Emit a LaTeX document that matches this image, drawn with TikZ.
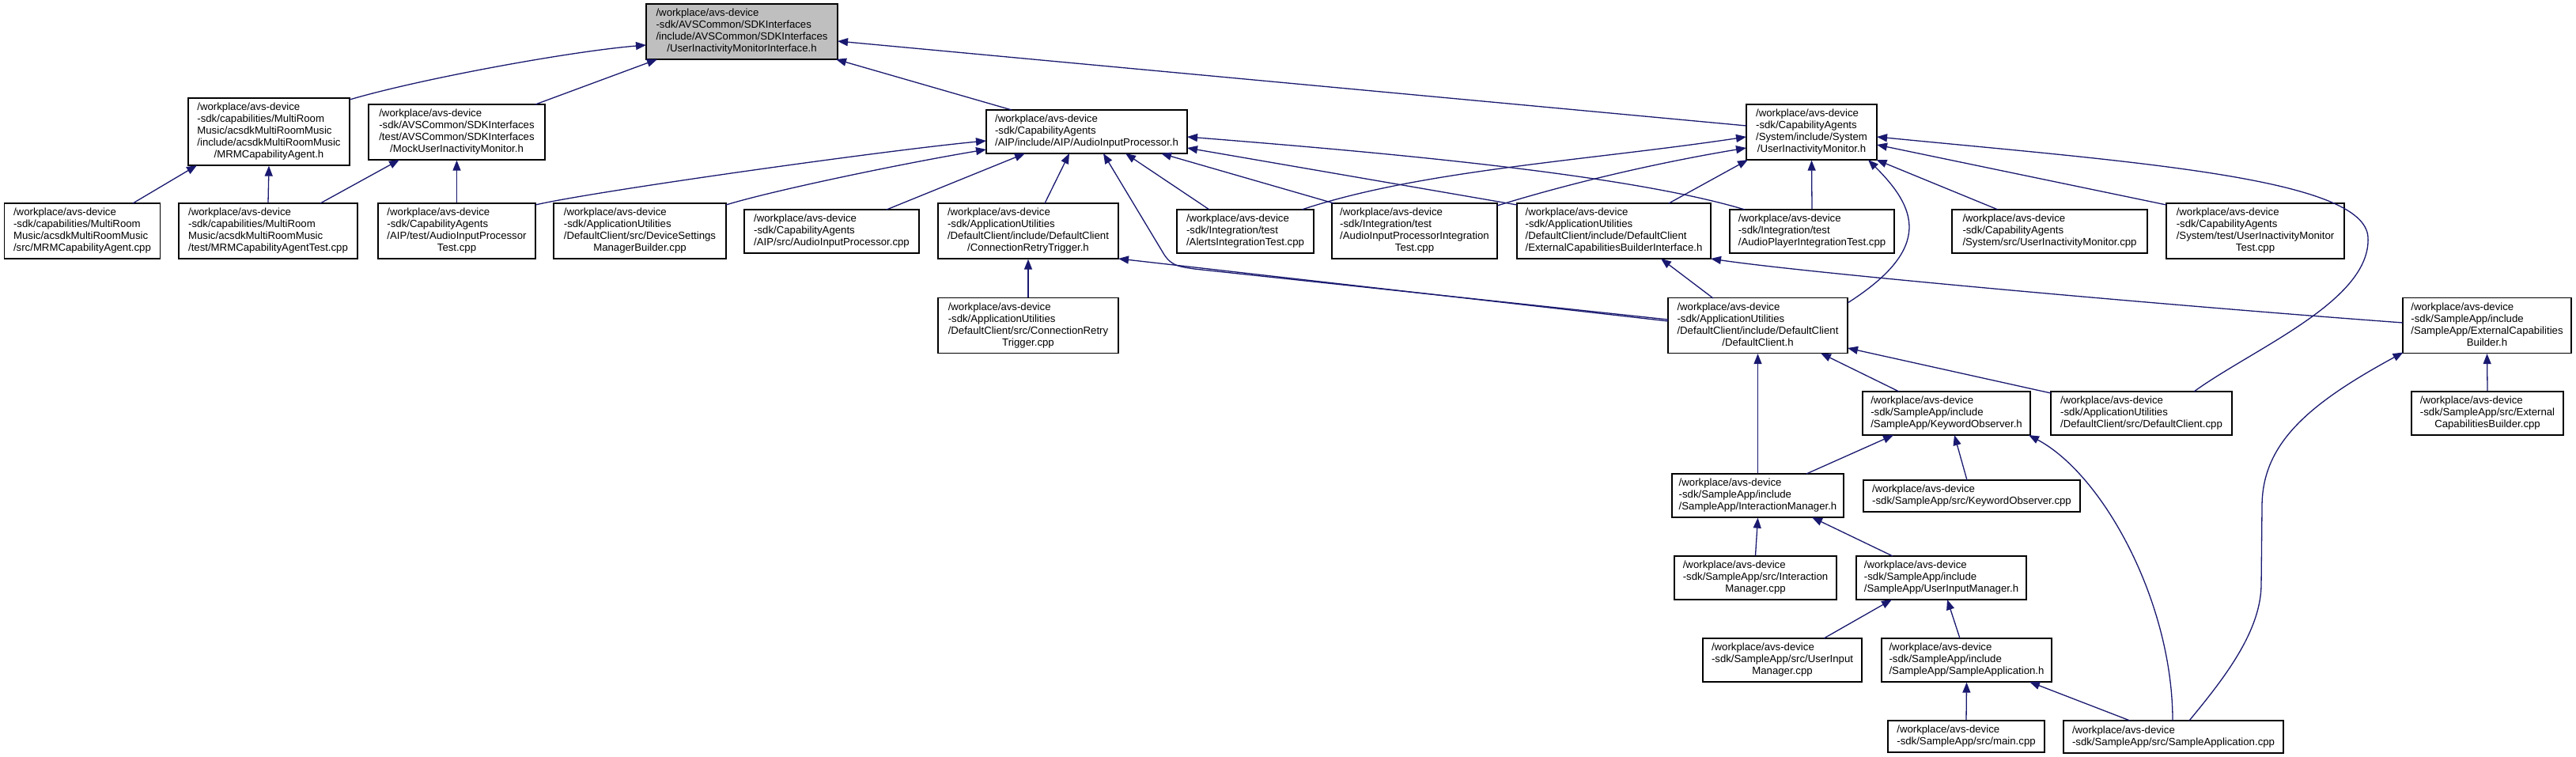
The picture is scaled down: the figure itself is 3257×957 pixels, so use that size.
\documentclass[tikz,border=0pt]{standalone}
\usepackage{fontspec}
\setmainfont{Liberation Sans}
\usetikzlibrary{arrows.meta,calc}
\definecolor{edgecol}{HTML}{191970}
\definecolor{topfill}{HTML}{BFBFBF}
\newcommand{\lbl}[2]{\begin{tabular}{@{}l@{}}#1\\\multicolumn{1}{@{}c@{}}{#2}\end{tabular}}
\newcommand{\bx}[7]{\node[box,minimum width=#4pt,minimum height=#5pt] (#1) at (#2,#3) {\lbl{#6}{#7}};}
\begin{document}
\begin{tikzpicture}[x=1pt,y=-1pt,
  box/.style={draw=black,line width=1.3pt,fill=white,inner sep=0pt,font=\fontsize{13.2}{15}\selectfont,anchor=center},
  edge/.style={draw=edgecol,line width=1.3pt,arrows={Triangle[length=13pt,width=10pt]-}}]
\useasboundingbox (0,0) rectangle (3257,957);
\fill[white] (0,0) rectangle (3257,957);
% nodes
\node[box,minimum width=242pt,minimum height=70pt,fill=topfill] (T) at (938,40) {\lbl{/workplace/avs-device\\-sdk/AVSCommon/SDKInterfaces\\/include/AVSCommon/SDKInterfaces}{/UserInactivityMonitorInterface.h}};
\bx{MRMh}{340}{166.5}{204}{85}{/workplace/avs-device\\-sdk/capabilities/MultiRoom\\Music/acsdkMultiRoomMusic\\/include/acsdkMultiRoomMusic}{/MRMCapabilityAgent.h}
\bx{Mock}{577.5}{167}{223}{70}{/workplace/avs-device\\-sdk/AVSCommon/SDKInterfaces\\/test/AVSCommon/SDKInterfaces}{/MockUserInactivityMonitor.h}
\bx{MRMcpp}{104}{292}{197}{70}{/workplace/avs-device\\-sdk/capabilities/MultiRoom\\Music/acsdkMultiRoomMusic}{/src/MRMCapabilityAgent.cpp}
\bx{MRMTest}{339}{292}{226}{70}{/workplace/avs-device\\-sdk/capabilities/MultiRoom\\Music/acsdkMultiRoomMusic}{/test/MRMCapabilityAgentTest.cpp}
\bx{AIPTest}{577.5}{292}{199}{70}{/workplace/avs-device\\-sdk/CapabilityAgents\\/AIP/test/AudioInputProcessor}{Test.cpp}
\bx{DSMB}{809}{292}{218}{70}{/workplace/avs-device\\-sdk/ApplicationUtilities\\/DefaultClient/src/DeviceSettings}{ManagerBuilder.cpp}
\bx{AIPcpp}{1051.5}{292.5}{221}{55}{/workplace/avs-device\\-sdk/CapabilityAgents}{/AIP/src/AudioInputProcessor.cpp}
\bx{AIPh}{1374}{166.5}{254}{55}{/workplace/avs-device\\-sdk/CapabilityAgents}{/AIP/include/AIP/AudioInputProcessor.h}
\bx{CRTh}{1300}{292}{228}{70}{/workplace/avs-device\\-sdk/ApplicationUtilities\\/DefaultClient/include/DefaultClient}{/ConnectionRetryTrigger.h}
\bx{CRTcpp}{1300}{411.5}{228}{70}{/workplace/avs-device\\-sdk/ApplicationUtilities\\/DefaultClient/src/ConnectionRetry}{Trigger.cpp}
\bx{Alerts}{1574.5}{292.5}{173}{55}{/workplace/avs-device\\-sdk/Integration/test}{/AlertsIntegrationTest.cpp}
\bx{AIPIT}{1788.5}{292}{209}{70}{/workplace/avs-device\\-sdk/Integration/test\\/AudioInputProcessorIntegration}{Test.cpp}
\bx{ECBI}{2040.5}{292}{245}{70}{/workplace/avs-device\\-sdk/ApplicationUtilities\\/DefaultClient/include/DefaultClient}{/ExternalCapabilitiesBuilderInterface.h}
\bx{DCh}{2222.5}{411.5}{227}{70}{/workplace/avs-device\\-sdk/ApplicationUtilities\\/DefaultClient/include/DefaultClient}{/DefaultClient.h}
\bx{UIMh}{2290.5}{167}{165}{70}{/workplace/avs-device\\-sdk/CapabilityAgents\\/System/include/System}{/UserInactivityMonitor.h}
\bx{APIT}{2291}{292.5}{208}{55}{/workplace/avs-device\\-sdk/Integration/test}{/AudioPlayerIntegrationTest.cpp}
\bx{UIMcpp}{2591.5}{292.5}{247}{55}{/workplace/avs-device\\-sdk/CapabilityAgents}{/System/src/UserInactivityMonitor.cpp}
\bx{UIMTest}{2851.5}{292}{225}{70}{/workplace/avs-device\\-sdk/CapabilityAgents\\/System/test/UserInactivityMonitor}{Test.cpp}
\bx{ECBh}{3144.5}{411.5}{213}{70}{/workplace/avs-device\\-sdk/SampleApp/include\\/SampleApp/ExternalCapabilities}{Builder.h}
\bx{KOh}{2461}{522.5}{212}{55}{/workplace/avs-device\\-sdk/SampleApp/include}{/SampleApp/KeywordObserver.h}
\bx{DCcpp}{2707.5}{522.5}{229}{55}{/workplace/avs-device\\-sdk/ApplicationUtilities}{/DefaultClient/src/DefaultClient.cpp}
\bx{ECBcpp}{3145}{522.5}{192}{55}{/workplace/avs-device\\-sdk/SampleApp/src/External}{CapabilitiesBuilder.cpp}
\bx{IMh}{2222.5}{626.5}{217}{55}{/workplace/avs-device\\-sdk/SampleApp/include}{/SampleApp/InteractionManager.h}
\bx{KOcpp}{2493}{627}{274}{40}{/workplace/avs-device}{-sdk/SampleApp/src/KeywordObserver.cpp}
\bx{IMcpp}{2219.5}{730.5}{205}{55}{/workplace/avs-device\\-sdk/SampleApp/src/Interaction}{Manager.cpp}
\bx{UIMgr}{2454.5}{730.5}{215}{55}{/workplace/avs-device\\-sdk/SampleApp/include}{/SampleApp/UserInputManager.h}
\bx{UIMgrcpp}{2253.5}{834.5}{201}{55}{/workplace/avs-device\\-sdk/SampleApp/src/UserInput}{Manager.cpp}
\bx{SAh}{2486.5}{834.5}{215}{55}{/workplace/avs-device\\-sdk/SampleApp/include}{/SampleApp/SampleApplication.h}
\bx{main}{2486}{931}{198}{40}{/workplace/avs-device}{-sdk/SampleApp/src/main.cpp}
\bx{SAcpp}{2748}{931.5}{278}{41}{/workplace/avs-device}{-sdk/SampleApp/src/SampleApplication.cpp}
% edges
\draw[edge] ($(T.center)+(-121,17)$) .. controls (720,65) and (530,100) .. ($(MRMh.center)+(102,-40.5)$);
\draw[edge] ($(T.center)+(-107,35)$) -- ($(Mock.center)+(99.5,-35)$);
\draw[edge] ($(T.center)+(119,35)$) -- ($(AIPh.center)+(-95,-27.5)$);
\draw[edge] ($(T.center)+(121,12)$) -- ($(UIMh.center)+(-82.5,-8)$);
\draw[edge] ($(MRMh.center)+(-91,42.5)$) -- ($(MRMcpp.center)+(64,-35)$);
\draw[edge] (MRMh.south) -- (MRMTest.north);
\draw[edge] ($(Mock.center)+(-72.5,35)$) -- ($(MRMTest.center)+(66,-35)$);
\draw[edge] (Mock.south) -- (AIPTest.north);
\draw[edge] ($(AIPh.center)+(-127,11.5)$) .. controls (1120,190) and (750,242) .. ($(AIPTest.center)+(99.5,-33)$);
\draw[edge] ($(AIPh.center)+(-127,22.5)$) .. controls (1150,205) and (980,240) .. ($(DSMB.center)+(109,-33)$);
\draw[edge] ($(AIPh.center)+(-78,27.5)$) -- ($(AIPcpp.center)+(69.5,-27.5)$);
\draw[edge] ($(AIPh.center)+(-22,27.5)$) -- ($(CRTh.center)+(21,-35)$);
\draw[edge] ($(AIPh.center)+(21,27.5)$) -- (1472,322) .. controls (1482,337) and (1492,337) .. (1510,340) -- ($(DCh.center)+(-113.5,-7.5)$);
\draw[edge] ($(CRTh.center)+(114,35)$) -- ($(DCh.center)+(-113.5,-5.5)$);
\draw[edge] ($(AIPh.center)+(49,27.5)$) -- ($(Alerts.center)+(-45.5,-27.5)$);
\draw[edge] ($(AIPh.center)+(94,27.5)$) -- ($(AIPIT.center)+(-102,-35)$);
\draw[edge] ($(AIPh.center)+(127,20.5)$) -- ($(ECBI.center)+(-122.5,-33)$);
\draw[edge] ($(AIPh.center)+(127,6.5)$) .. controls (1751,193) and (2056,220) .. ($(APIT.center)+(-85,-27.5)$);
\draw[edge] ($(UIMh.center)+(-82.5,6)$) .. controls (2008,203) and (1796,215) .. ($(Alerts.center)+(71.5,-27.5)$);
\draw[edge] ($(UIMh.center)+(-82.5,20)$) .. controls (2100,205) and (1990,230) .. ($(AIPIT.center)+(104.5,-32)$);
\draw[edge] ($(UIMh.center)+(-80.5,35)$) -- ($(ECBI.center)+(69.5,-35)$);
\draw[edge] (UIMh.south) -- (APIT.north);
\draw[edge] ($(UIMh.center)+(71.5,35)$) .. controls (2422,262) and (2446,313) .. ($(DCh.center)+(113.5,-28.5)$);
\draw[edge] ($(UIMh.center)+(82,35)$) -- ($(UIMcpp.center)+(-65.5,-27.5)$);
\draw[edge] ($(UIMh.center)+(82.5,16)$) -- ($(UIMTest.center)+(-112.5,-33)$);
\draw[edge] ($(UIMh.center)+(82.5,6)$) .. controls (2700,205) and (2990,225) .. (2994,300) .. controls (2998,380) and (2850,440) .. ($(DCcpp.center)+(66.5,-27.5)$);
\draw[edge] ($(ECBI.center)+(59.5,35)$) -- ($(DCh.center)+(-56.5,-34.5)$);
\draw[edge] ($(ECBI.center)+(122.5,35)$) .. controls (2283,345) and (2739,386) .. ($(ECBh.center)+(-106.5,-3.5)$);
\draw[edge] ($(DCh.center)+(79.5,35)$) -- ($(KOh.center)+(-60,-27.5)$);
\draw[edge] ($(DCh.center)+(113.5,28.5)$) -- ($(DCcpp.center)+(-114.5,-25.5)$);
\draw[edge] (DCh.south) -- (IMh.north);
\draw[edge] ($(KOh.center)+(-67,27.5)$) -- ($(IMh.center)+(61.5,-27.5)$);
\draw[edge] ($(KOh.center)+(10,27.5)$) -- ($(KOcpp.center)+(-6,-20)$);
\draw[edge] ($(KOh.center)+(104,27.5)$) .. controls (2659,600) and (2747,761) .. ($(SAcpp.center)+(-1,-20.5)$);
\draw[edge] (ECBh.south) -- (ECBcpp.north);
\draw[edge] ($(ECBh.center)+(-106,34)$) .. controls (2920,510) and (2860,560) .. (2860,640) -- (2859,740) .. controls (2858,800) and (2810,860) .. ($(SAcpp.center)+(20,-20.5)$);
\draw[edge] (IMh.south) -- (IMcpp.north);
\draw[edge] ($(IMh.center)+(68.5,27.5)$) -- ($(UIMgr.center)+(-61.5,-27.5)$);
\draw[edge] ($(UIMgr.center)+(-62.5,27.5)$) -- ($(UIMgrcpp.center)+(52.5,-27.5)$);
\draw[edge] ($(UIMgr.center)+(7.5,27.5)$) -- ($(SAh.center)+(-8.5,-27.5)$);
\draw[edge] (SAh.south) -- (main.north);
\draw[edge] ($(SAh.center)+(79.5,27.5)$) -- ($(SAcpp.center)+(-55,-20.5)$);
\draw[edge] (CRTh.south) -- (CRTcpp.north);
\end{tikzpicture}
\end{document}
